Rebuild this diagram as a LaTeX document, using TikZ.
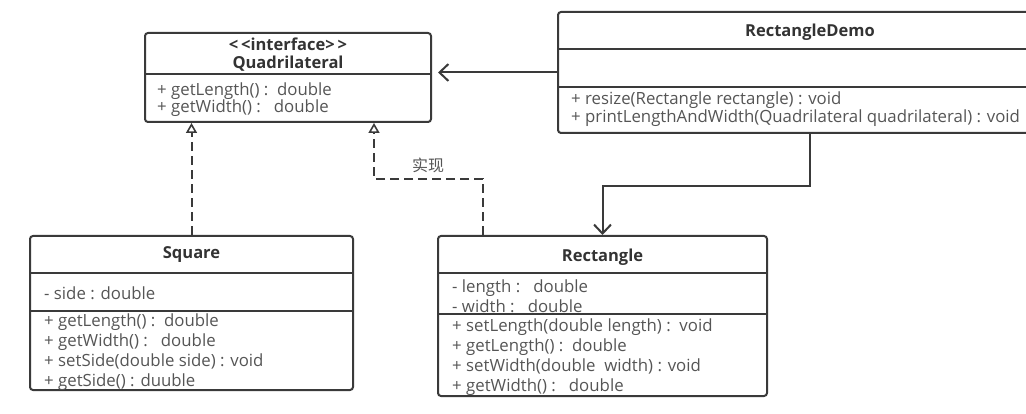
\documentclass[tikz,border=0pt]{standalone}
\usepackage{fontspec}
\setmainfont{Open Sans}
\newfontfamily\cjk{Noto Sans CJK SC}
\usetikzlibrary{positioning, arrows.meta}
\definecolor{umlline}{HTML}{3A3A3A}
\definecolor{umltext}{HTML}{555555}
\definecolor{umltitle}{HTML}{333333}

\begin{document}
\begin{tikzpicture}[x=1pt, y=-1pt,
    umlbox/.style={draw=umlline, line width=2pt, rounded corners=3pt, inner sep=0pt},
    umlrule/.style={draw=umlline, line width=2pt},
    title/.style={font=\bfseries\fontsize{16.5}{18}\selectfont, text=umltitle, align=center, inner sep=0pt},
    members/.style={anchor=west, align=left, inner sep=0pt, text=umltext,
      font=\fontsize{16.8}{#1}\selectfont},
    assoc/.style={draw=umlline, line width=2pt, -{Straight Barb[length=9pt, width=17pt, line width=2pt]}},
    realize/.style={draw=umlline, line width=2pt, dash pattern=on 9pt off 5pt,
      -{Triangle[open, length=10pt, width=11pt, line width=1.6pt]}}
  ]
  \useasboundingbox (0,0) rectangle (1026,414);

  % interface
  \node[umlbox, minimum width=286pt, minimum height=89pt] (quad) at (288,77.5) {};
  \node[title] (quadname) at (288,55) {<\,<interface>\,>\\Quadrilateral};
  \draw[umlrule] (145,74) -- (431,74);
  \node[members=17pt] (quadops) at (157,99.5) {+ getLength() :\ \ double\\+ getWidth() :\ \ \ double};

  % client
  \node[umlbox, minimum width=504pt, minimum height=121pt] (demo) at (810,72.5) {};
  \node[title] (demoname) at (810,32) {RectangleDemo};
  \draw[umlrule] (558,49) -- (1062,49);
  \draw[umlrule] (558,87) -- (1062,87);
  \node[members=18pt] (demoops) at (571,109) {+ resize(Rectangle rectangle) : void\\+ printLengthAndWidth(Quadrilateral quadrilateral) : void};

  % square
  \node[umlbox, minimum width=323pt, minimum height=154pt] (square) at (191.5,313) {};
  \node[title] (squarename) at (191.5,255) {Square};
  \draw[umlrule] (30,273) -- (353,273);
  \draw[umlrule] (30,311) -- (353,311);
  \node[members=20pt] (squareattr) at (44,293) {- side : double};
  \node[members=20pt] (squareops) at (44,352) {+ getLength() :\ \ double\\+ getWidth() :\ \ \ double\\+ setSide(double side) : void\\+ getSide() : duuble};

  % rectangle
  \node[umlbox, minimum width=329pt, minimum height=160pt] (rect) at (602.5,316) {};
  \node[title] (rectname) at (602.5,257) {Rectangle};
  \draw[umlrule] (438,273) -- (767,273);
  \draw[umlrule] (438,314) -- (767,314);
  \node[members=20pt] (rectattr) at (452,296) {- length :\ \ \ double\\- width :\ \ \ double};
  \node[members=20pt] (rectops) at (452,357) {+ setLength(double length) :\ \ void\\+ getLength() :\ \ double\\+ setWidth(double\ \ width) : void\\+ getWidth() :\ \ \ double};

  % connectors
  \draw[assoc, shorten >=6pt] (demo.west) -- (quad.east |- demo.west);
  \draw[assoc] (demo.south) -- ++(0,52) -| (rect.north);
  \draw[realize] (square.north) -- (square.north |- quad.south);
  \draw[realize] ([xshift=-119.5pt]rect.north) -- ++(0,-56) -| ([xshift=86pt]quad.south);
  \node[text=umltext, font=\cjk\fontsize{16}{18}\selectfont, inner sep=0pt] (reallabel) at (428,165) {实现};
\end{tikzpicture}
\end{document}
